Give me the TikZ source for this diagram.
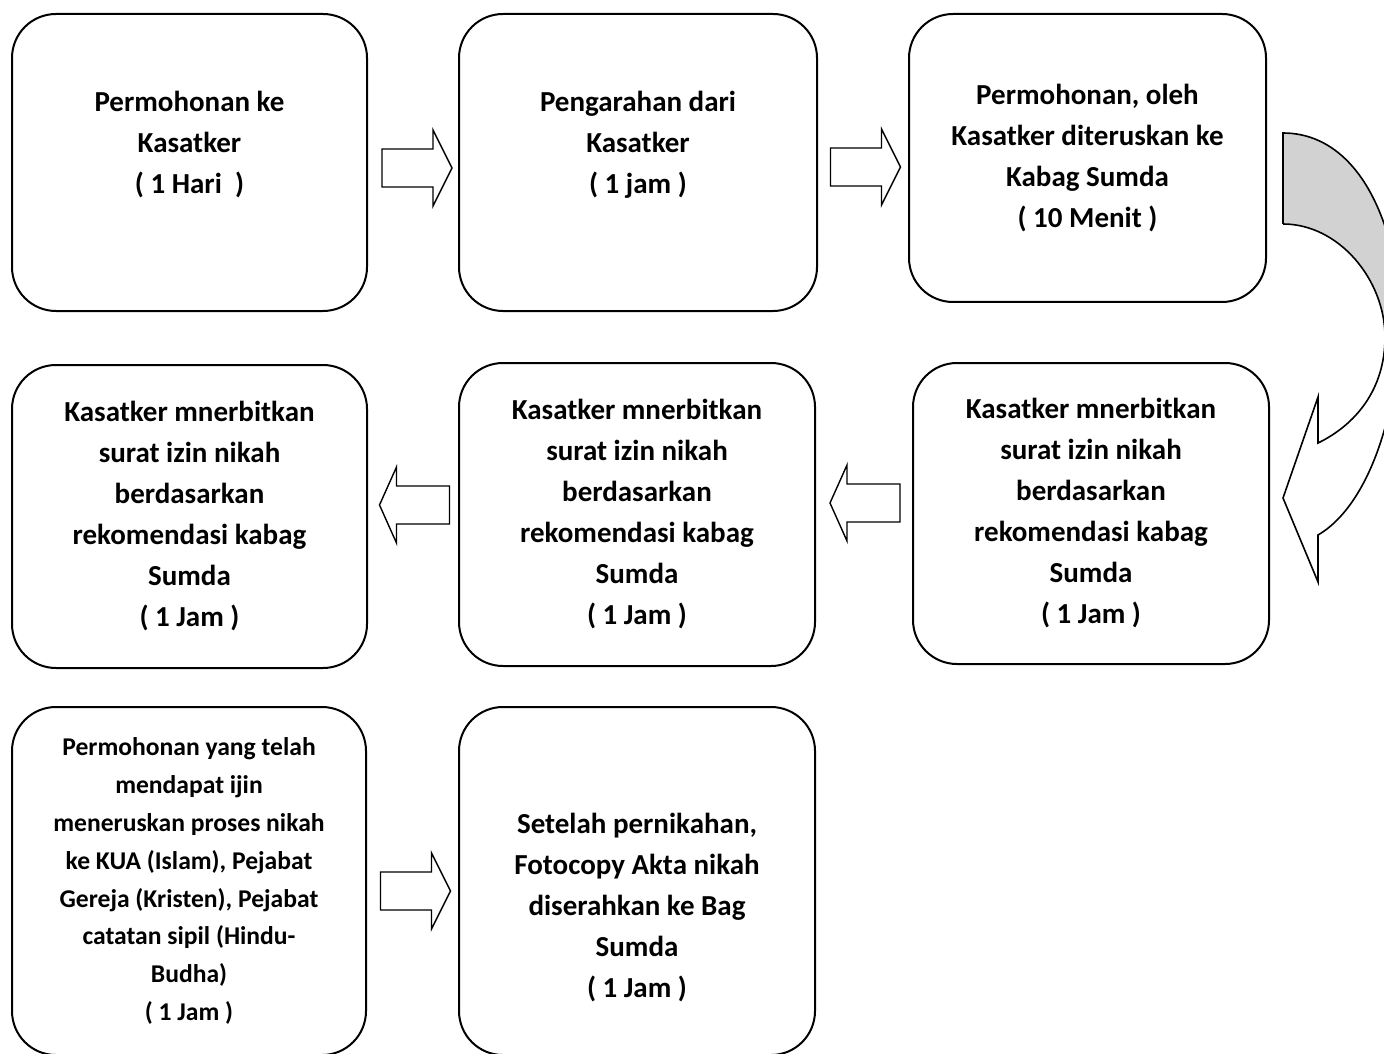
\documentclass[tikz,border=0pt]{standalone}
\usepackage{fontspec}
\setmainfont{Carlito}
\usetikzlibrary{calc}
\definecolor{bandgrey}{RGB}{210,210,210}
\tikzset{
  stepbox/.style={draw,line width=1pt,rounded corners=22pt,align=center,
    font=\bfseries\fontsize{14.5}{20.5}\selectfont,inner sep=0pt},
  smallbox/.style={stepbox,font=\bfseries\fontsize{12.8}{18.95}\selectfont},
  % block arrows between the steps
  pics/rarrow/.style={code={
    \draw[line width=0.7pt,fill=white] (-35,-19) -- (16,-19) -- (16,-38) -- (35,0)
      -- (16,38) -- (16,19) -- (-35,19) -- cycle;
  }},
  pics/larrow/.style={code={
    \draw[line width=0.7pt,fill=white] (35,-19) -- (-18,-19) -- (-18,-38) -- (-35,0)
      -- (-18,38) -- (-18,19) -- (35,19) -- cycle;
  }},
}

\begin{document}
\begin{tikzpicture}[x=0.5pt,y=-0.5pt]
  \useasboundingbox (0,0) rectangle (1384,1053);
  \clip (0,0) rectangle (1384,1053);

  % first row
  \node[stepbox,minimum width=177.5pt,minimum height=148.5pt] (mohon) at (189.5,162.5)
    {Permohonan ke\\Kasatker\\( 1 Hari\ \ )\\~};
  \node[stepbox,minimum width=179pt,minimum height=148.5pt] (arah) at (638,162.5)
    {Pengarahan dari\\Kasatker\\( 1 jam )\\~};
  \node[stepbox,minimum width=178.5pt,minimum height=144pt] (terus) at (1087.5,158)
    {Permohonan, oleh\\Kasatker diteruskan ke\\Kabag Sumda\\( 10 Menit )};

  % second row
  \node[stepbox,minimum width=178pt,minimum height=150.5pt] (izinA) at (1091,513.5)
    {Kasatker mnerbitkan\\surat izin nikah\\berdasarkan\\rekomendasi kabag\\Sumda\\( 1 Jam )};
  \node[stepbox,minimum width=178pt,minimum height=151.5pt] (izinB) at (637,514.5)
    {Kasatker mnerbitkan\\surat izin nikah\\berdasarkan\\rekomendasi kabag\\Sumda\\( 1 Jam )};
  \node[stepbox,minimum width=177.5pt,minimum height=151.5pt] (izinC) at (189.5,516.5)
    {Kasatker mnerbitkan\\surat izin nikah\\berdasarkan\\rekomendasi kabag\\Sumda\\( 1 Jam )};

  % third row
  \node[smallbox,minimum width=177pt,minimum height=174pt] (kua) at (189,881)
    {Permohonan yang telah\\mendapat ijin\\meneruskan proses nikah\\ke KUA (Islam), Pejabat\\
     Gereja (Kristen), Pejabat\\catatan sipil (Hindu-\\Budha)\\( 1 Jam )};
  \node[stepbox,minimum width=178pt,minimum height=174pt] (akta) at (637,881)
    {~\\[16pt]Setelah pernikahan,\\Fotocopy Akta nikah\\diserahkan ke Bag\\Sumda\\( 1 Jam )};

  \pic at (417,168) {rarrow};
  \pic at (865.5,167) {rarrow};
  \pic at (414.5,505) {larrow};
  \pic at (865,503) {larrow};
  \pic at (415.5,891) {rarrow};

  % curved arrow from the first row down to the second
  \fill[bandgrey] (1283,133) .. controls (1332,133) and (1377,172) .. (1396,268)
    -- (1396,337) -- (1385,337) .. controls (1385,280) and (1339,224) .. (1283,224) -- cycle;
  \draw[line width=0.8pt,line join=miter] (1283,224) -- (1283,133)
    .. controls (1332,133) and (1377,172) .. (1396,268)
    .. controls (1410,375) and (1378,500) .. (1318,535) -- (1318,582) -- (1283,498)
    -- (1318,397) -- (1318,443) .. controls (1355,425) and (1385,390) .. (1385,337)
    .. controls (1385,280) and (1339,224) .. (1283,224);
\end{tikzpicture}
\end{document}
